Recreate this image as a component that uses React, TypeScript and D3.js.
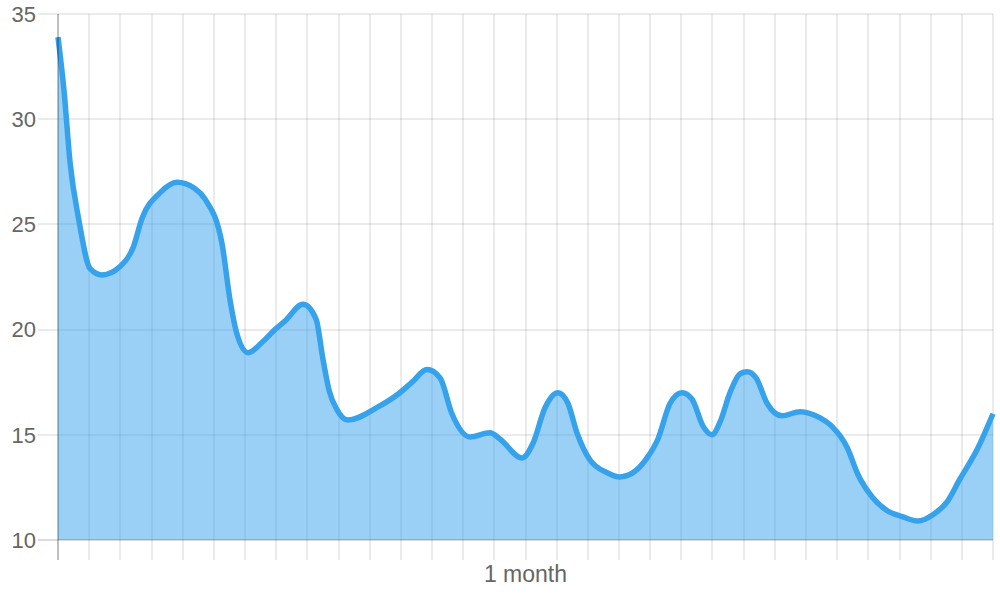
import * as React from 'react';
import * as d3 from 'd3';

const width = 1000;
const height = 600;

// days into the month, and the reading at that moment
const days = [
  0, 0.19, 0.39, 0.67, 1.03, 1.41, 1.99, 2.41, 2.70, 3.27, 3.82, 4.40, 4.72,
  5.26, 5.52, 5.74, 6.10, 6.55, 6.96, 7.28, 7.86, 8.28, 8.50, 8.70, 8.95, 9.30,
  10.24, 10.97, 11.36, 11.84, 12.26, 12.64, 13.22, 13.86, 14.18, 14.89, 15.24,
  15.63, 16.04, 16.36, 16.65, 17.07, 17.62, 18.03, 18.45, 18.90, 19.25, 19.64,
  20.02, 20.34, 20.70, 20.98, 21.24, 21.56, 21.88, 22.11, 22.40, 22.75, 23.23,
  23.81, 24.45, 24.83, 25.32, 25.67, 26.15, 26.60, 27.11, 27.59, 28.07, 28.52,
  28.94, 29.49, 30
];
const values = [
  33.9, 31.4, 27.9, 25.2, 22.9, 22.6, 23.0, 23.9, 25.3, 26.5, 27.0, 26.7, 26.2,
  24.1, 21.4, 19.8, 18.9, 19.4, 20.0, 20.4, 21.2, 20.5, 18.6, 17.1, 16.2, 15.7,
  16.3, 17.0, 17.5, 18.1, 17.7, 16.0, 14.9, 15.1, 14.8, 13.9, 14.6,
  16.3, 17.0, 16.5, 15.1, 13.8, 13.2, 13.0, 13.2, 13.9, 14.8, 16.5,
  17.0, 16.7, 15.4, 15.0, 15.6, 17.0, 17.9, 18.0, 17.7, 16.5, 15.9,
  16.1, 15.8, 15.4, 14.4, 13.1, 12.0, 11.4, 11.1, 10.9, 11.2, 11.8,
  12.9, 14.3, 16.0
];
const yTicks = [10, 15, 20, 25, 30, 35];
const xTicks = d3.range(0, 31);
const xTitle = '1 month';

const font = '"Liberation Sans", Arial, Helvetica, sans-serif';
const px = (v: number) => Math.round(v);

export default function App() {
  const x = d3.scaleLinear().domain([0, 30]).range([58, 993]);
  const y = d3.scaleLinear().domain([10, 35]).range([540, 14]);

  const pts: [number, number][] = days.map((d, i) => [d, values[i]]);

  const line = d3.line<[number, number]>()
    .x(d => x(d[0]))
    .y(d => y(d[1]))
    .curve(d3.curveMonotoneX);

  const area = d3.area<[number, number]>()
    .x(d => x(d[0]))
    .y0(y(10))
    .y1(d => y(d[1]))
    .curve(d3.curveMonotoneX);

  const [x0, x1] = x.range();
  const [yb, yt] = y.range();

  return (
    <svg width={width} height={height}
         style={{position: 'absolute', left: 0, top: 0, fontFamily: font}}>
      <g>
        {xTicks.slice(1).map(t => (
          <line key={'vx' + t} x1={px(x(t))} x2={px(x(t))} y1={yt} y2={yb + 20}
                stroke="rgba(0,0,0,0.08)" strokeWidth={2} />
        ))}
        {yTicks.slice(1).map(t => (
          <line key={'hy' + t} x1={x0 - 20} x2={x1} y1={px(y(t))} y2={px(y(t))}
                stroke="rgba(0,0,0,0.08)" strokeWidth={2} />
        ))}
      </g>

      <path d={area(pts)!} fill="rgba(54,162,235,0.5)" />
      <path d={line(pts)!} fill="none" stroke="#36a2eb" strokeWidth={5.5}
            strokeLinejoin="round" strokeLinecap="butt" />

      {/* axis lines */}
      <line x1={x0 - 20} x2={x1} y1={px(yb)} y2={px(yb)} stroke="rgba(0,0,0,0.14)" strokeWidth={2} />
      <line x1={px(x0)} x2={px(x0)} y1={yt} y2={yb + 20} stroke="rgba(0,0,0,0.25)" strokeWidth={2} />

      {yTicks.map(t => (
        <text key={'yl' + t} x={36} y={y(t)} dy="0.35em" textAnchor="end"
              fontSize={22} fill="#666">{t}</text>
      ))}

      <text x={(x0 + x1) / 2} y={582} textAnchor="middle" fontSize={23} fill="#666">
        {xTitle}
      </text>
    </svg>
  );
}
